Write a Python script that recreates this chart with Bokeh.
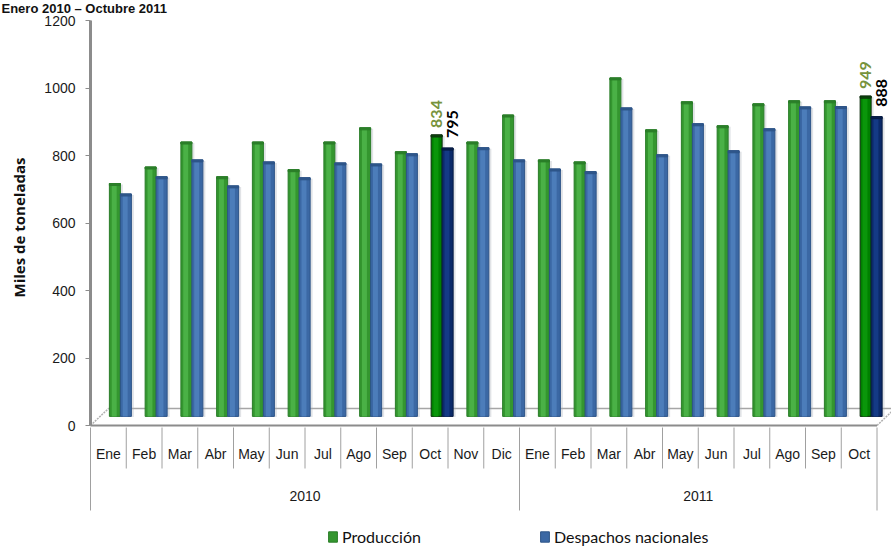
import numpy as np
from bokeh.plotting import figure
from bokeh.models import (Range1d, FixedTicker, ColumnDataSource, Legend, LegendItem, Label)
from bokeh.core.properties import value
from bokeh.embed import file_html
from bokeh.resources import INLINE

# ---------------- data ----------------
months = ["Ene", "Feb", "Mar", "Abr", "May", "Jun", "Jul", "Ago", "Sep", "Oct", "Nov", "Dic",
          "Ene", "Feb", "Mar", "Abr", "May", "Jun", "Jul", "Ago", "Sep", "Oct"]
years = ["2010"] * 12 + ["2011"] * 10
produccion = [690, 739, 813, 710, 813, 731, 813, 855, 784, 834, 813, 893,
              760, 754, 1003, 849, 932, 861, 926, 935, 935, 949]
despachos = [659, 710, 760, 683, 754, 707, 751, 748, 778, 795, 796, 760,
             733, 725, 914, 775, 867, 787, 852, 917, 918, 888]
highlight_month = "Oct"
y_ticks = [0, 200, 400, 600, 800, 1000, 1200]
series_names = ["Producción", "Despachos nacionales"]
title_text = "Enero 2010 \u2013 Octubre 2011"
y_title = "Miles de toneladas"

# ---------------- layout constants (pixels on the page) ----------------
W, H = 891, 547
ZERO_PY = 425.0          # page y of value 0
PX_Y = 0.3375            # px per unit
X0_PX = 90.0             # page x of first category edge
CAT_PX = 35.75           # px per category
SANS = "Liberation Sans"


def py2y(py):
    return (ZERO_PY - py) / PX_Y


def px2x(px):
    return (px - X0_PX) / CAT_PX


n = len(months)
idx = np.arange(n)
xc = idx + 0.5
DEPTH = 27                      # 3D offset of the bars (units)
DX_G = 6.5 / CAT_PX
DX_B = 17.5 / CAT_PX
BW = 11.0 / CAT_PX
FLOOR_BACK = 17 / PX_Y
FLOOR_DX = 18 / CAT_PX

p = figure(width=W, height=H, output_backend="svg", toolbar_location=None,
           x_range=Range1d(px2x(0), px2x(W)),
           y_range=Range1d(py2y(H), py2y(0)),
           min_border_left=0, min_border_right=0,
           min_border_top=0, min_border_bottom=0,
           x_axis_location=None)
p.outline_line_color = None
p.grid.visible = False
p.background_fill_color = "white"

yax = p.yaxis[0]
yax.fixed_location = 0
yax.ticker = FixedTicker(ticks=y_ticks)
yax.bounds = (y_ticks[0], y_ticks[-1])
yax.axis_line_color = "#8c8c8c"
yax.axis_line_width = 3
yax.major_tick_line_color = "#8c8c8c"
yax.major_tick_out = 5
yax.major_tick_in = 0
yax.minor_tick_line_color = None
yax.major_label_standoff = 10
yax.major_label_text_font = SANS
yax.major_label_text_font_size = "14px"
yax.major_label_text_color = "#1a1a1a"

# y-axis title and chart title
p.add_layout(Label(x=px2x(18), y=py2y(227), text=y_title, angle=np.pi / 2,
                   text_align="center", text_baseline="middle",
                   text_font="Open Sans", text_font_style="bold",
                   text_font_size="15px", text_color="#111111"))
p.add_layout(Label(x=px2x(1), y=py2y(0), text=title_text, text_font=SANS,
                   text_font_style="bold", text_font_size="13px", text_color="#111111",
                   text_baseline="top", text_align="left"))

# ---------------- floor / walls ----------------
p.segment(x0=[FLOOR_DX], y0=[FLOOR_BACK], x1=[n + FLOOR_DX], y1=[FLOOR_BACK],
          line_color="#a6a6a6", line_width=1.5)
p.segment(x0=[0, n], y0=[0, 0], x1=[FLOOR_DX, n + FLOOR_DX], y1=[FLOOR_BACK, FLOOR_BACK],
          line_color="#b0b0b0", line_width=1.5, line_dash="2 1")

# ---------------- bars ----------------
is_hi = np.array([m == highlight_month for m in months])
prod = np.array(produccion, dtype=float)
desp = np.array(despachos, dtype=float)


def bars(xpos, vals, mask, base, light, dark, line):
    sh = ColumnDataSource(dict(x=xpos[mask] + 2.5 / CAT_PX, top=vals[mask] + DEPTH - 3))
    p.vbar(x="x", top="top", bottom=DEPTH - 2, width=BW, source=sh,
           fill_color="#a8b0b8", fill_alpha=0.35, line_color=None)
    src = ColumnDataSource(dict(x=xpos[mask], top=vals[mask] + DEPTH))
    r = p.vbar(x="x", top="top", bottom=DEPTH, width=BW, source=src,
               fill_color=base, line_color=line, line_width=1)
    hl = ColumnDataSource(dict(x=xpos[mask] - 0.06 * BW, top=vals[mask] + DEPTH - 3))
    p.vbar(x="x", top="top", bottom=DEPTH, width=BW * 0.45, source=hl,
           fill_color=light, line_color=None)
    cap = ColumnDataSource(dict(x=xpos[mask], top=vals[mask] + DEPTH,
                                bottom=vals[mask] + DEPTH - 6))
    p.vbar(x="x", top="top", bottom="bottom", width=BW, source=cap,
           fill_color=dark, line_color=line, line_width=1)
    return r


rg = bars(xc + DX_G, prod, ~is_hi, "#34962f", "#4ab146", "#2b7f29", "#2a7d28")
rb = bars(xc + DX_B, desp, ~is_hi, "#3b68a4", "#4c7dba", "#2f578c", "#2d5487")
bars(xc + DX_G, prod, is_hi, "#008000", "#0a960a", "#0b4f0b", "#0d2d0d")
bars(xc + DX_B, desp, is_hi, "#0b2a69", "#143a85", "#07214f", "#061a40")

# ---------------- data labels ----------------
lab_g = ColumnDataSource(dict(x=(xc + DX_G)[is_hi], y=prod[is_hi] + DEPTH,
                              t=[str(int(v)) for v in prod[is_hi]]))
lab_b = ColumnDataSource(dict(x=(xc + DX_B)[is_hi], y=desp[is_hi] + DEPTH,
                              t=[str(int(v)) for v in desp[is_hi]]))
p.text(x="x", y="y", text="t", source=lab_g, angle=np.pi / 2, text_align="left",
       text_baseline="middle", y_offset=-7, text_color="#77933c",
       text_font=value("Lato"), text_font_style="bold", text_font_size="16px")
p.text(x="x", y="y", text="t", source=lab_b, angle=np.pi / 2, text_align="left",
       text_baseline="middle", y_offset=-10, x_offset=5, text_color="#000000",
       text_font=value("Lato"), text_font_style="bold", text_font_size="16px")

# ---------------- zero line ----------------
p.segment(x0=[0], y0=[0], x1=[n], y1=[0], line_color="#8c8c8c", line_width=2)

# ---------------- category axis (months / years) ----------------
bounds = idx[1:]
year_bounds = [0] + [i for i in range(1, n) if years[i] != years[i - 1]] + [n]
month_sep = [int(b) for b in bounds if b not in year_bounds]
p.segment(x0=month_sep, y0=py2y(427), x1=month_sep, y1=py2y(468),
          line_color="#a0a0a0", line_width=1)
p.segment(x0=year_bounds, y0=py2y(427), x1=year_bounds, y1=py2y(510),
          line_color="#a0a0a0", line_width=1)

msrc = ColumnDataSource(dict(x=xc, y=[py2y(453)] * n, t=months))
p.text(x="x", y="y", text="t", source=msrc, text_align="center", text_baseline="middle",
       text_color="#1a1a1a", text_font=value(SANS), text_font_size="14px")

uyears = []
for y in years:
    if y not in uyears:
        uyears.append(y)
ycent = [float(np.mean([i + 0.5 for i in range(n) if years[i] == u])) for u in uyears]
ysrc = ColumnDataSource(dict(x=ycent, y=[py2y(495)] * len(uyears), t=uyears))
p.text(x="x", y="y", text="t", source=ysrc, text_align="center", text_baseline="middle",
       text_color="#1a1a1a", text_font=value(SANS), text_font_size="14px")

# ---------------- legend ----------------
legend = Legend(items=[LegendItem(label=series_names[0], renderers=[rg]),
                       LegendItem(label=series_names[1], renderers=[rb])],
                orientation="horizontal", location=(327, 1), spacing=118,
                padding=0, margin=0, glyph_width=11, glyph_height=13,
                label_height=13, label_standoff=4,
                label_text_font="Lato", label_text_font_size="16px",
                label_text_color="#111111", border_line_alpha=0,
                background_fill_alpha=0)
p.add_layout(legend)

open("out.html", "w").write(file_html(p, INLINE))
